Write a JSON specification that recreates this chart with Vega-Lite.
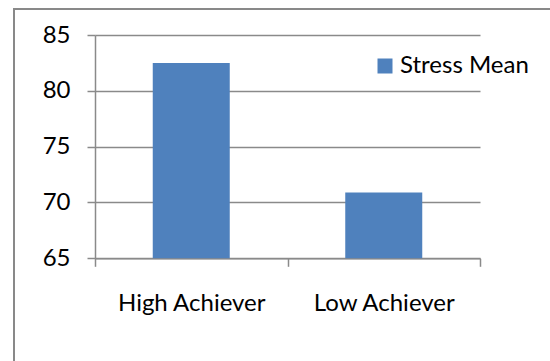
{
  "$schema": "https://vega.github.io/schema/vega-lite/v6.json",
  "width": 536,
  "height": 352,
  "autosize": {"type": "none"},
  "padding": {"left": 14, "top": 9, "right": 0, "bottom": 0},
  "background": "white",
  "config": {
    "font": "Lato",
    "view": {"stroke": "#898989", "strokeWidth": 2, "strokeDash": [536, 888, 352]},
    "axis": {
      "domainColor": "#8a8a8a",
      "tickColor": "#8a8a8a",
      "gridColor": "#8a8a8a",
      "domainWidth": 1.5,
      "tickWidth": 1.5,
      "gridWidth": 1.5,
      "labelColor": "#000000",
      "labelFont": "Lato",
      "labelFontSize": 24,
      "title": null
    }
  },
  "data": {
    "values": [
      {"group": "High Achiever", "stress": 82.5},
      {"group": "Low Achiever", "stress": 70.9}
    ]
  },
  "mark": {"type": "bar", "width": {"band": 0.4}},
  "encoding": {
    "x": {
      "field": "group",
      "type": "nominal",
      "sort": null,
      "scale": {"range": [81, 466], "paddingInner": 0, "paddingOuter": 0},
      "axis": {
        "orient": "bottom",
        "offset": -102.7,
        "tickBand": "extent",
        "tickSize": 8,
        "labelPadding": 25,
        "labelAngle": 0,
        "grid": false,
        "title": null
      }
    },
    "y": {
      "field": "stress",
      "type": "quantitative",
      "scale": {"domain": [65, 85], "range": [249.3, 26], "nice": false, "zero": false},
      "axis": {
        "values": [65, 70, 75, 80, 85],
        "offset": -81,
        "tickSize": 8,
        "labelPadding": 17,
        "grid": true,
        "title": null
      }
    },
    "y2": {"datum": 65},
    "color": {
      "datum": "Stress Mean",
      "type": "nominal",
      "scale": {"range": ["#4F81BD"]},
      "legend": {
        "orient": "none",
        "legendX": 359,
        "legendY": 45,
        "title": null,
        "padding": 0,
        "symbolType": "square",
        "symbolSize": 225,
        "symbolStrokeWidth": 0,
        "symbolOpacity": 1,
        "labelFont": "Lato",
        "labelFontSize": 24,
        "labelColor": "#000000",
        "labelOffset": 3
      }
    }
  }
}
